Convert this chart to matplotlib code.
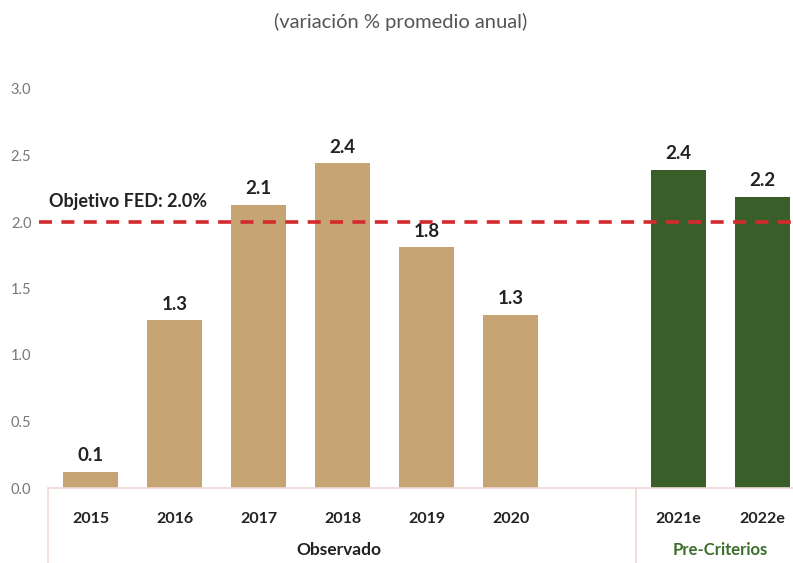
import matplotlib.pyplot as plt

# Datos -------------------------------------------------------------------
anios = ["2015", "2016", "2017", "2018", "2019", "2020", "2021e", "2022e"]
posiciones = [0, 1, 2, 3, 4, 5, 7, 8]
valores = [0.12, 1.26, 2.13, 2.44, 1.81, 1.30, 2.39, 2.19]
etiquetas = ["0.1", "1.3", "2.1", "2.4", "1.8", "1.3", "2.4", "2.2"]
objetivo_fed = 2.0

c_obs = "#C6A474"
c_pre = "#3A5E2A"
colores = [c_obs] * 6 + [c_pre] * 2

# Grafico -----------------------------------------------------------------
plt.rcParams["font.family"] = ["Lato", "DejaVu Sans"]
fig = plt.figure(figsize=(7.93, 5.63), dpi=100)
ax = fig.add_axes([48 / 793, 1 - 488 / 563, 1 - 48 / 793, 399 / 563])

ax.bar(posiciones, valores, width=0.66, color=colores, zorder=2)
for x, v, t in zip(posiciones, valores, etiquetas):
    ax.annotate(t, (x, v), xytext=(0, 5.5), textcoords="offset points",
                ha="center", va="bottom", fontsize=13.5, fontweight="bold",
                color="#222222")

ax.axhline(objetivo_fed, color="#D42A2E", lw=2.6, dashes=(3.6, 2.6),
           zorder=3, xmin=-0.012, clip_on=False)
ax.text(-0.49, 2.09, "Objetivo FED: 2.0%", fontsize=13, fontweight="bold",
        color="#222222", ha="left", va="bottom")

ax.set_xlim(-0.506, 8.363)
ax.set_ylim(0, 3.0)
ax.set_yticks([0, 0.5, 1.0, 1.5, 2.0, 2.5, 3.0])
ax.set_yticklabels(["0.0", "0.5", "1.0", "1.5", "2.0", "2.5", "3.0"])
ax.tick_params(axis="y", length=0, pad=12, labelsize=10.5, labelcolor="#777777")
ax.set_xticks(posiciones)
ax.set_xticklabels(anios)
ax.tick_params(axis="x", length=0, pad=17, labelsize=11.5, labelcolor="#222222")
for lbl in ax.get_xticklabels():
    lbl.set_fontweight("bold")

for s in ["top", "right", "left"]:
    ax.spines[s].set_visible(False)
ax.spines["bottom"].set_color("#EED9D4")
ax.spines["bottom"].set_linewidth(1.2)

# separadores de grupo
tr = ax.get_xaxis_transform()
for xs in [-0.506, 6.49]:
    ax.plot([xs, xs], [0, -0.19], transform=tr, color="#EED9D4", lw=1.2,
            clip_on=False)
ax.text(2.96, -0.155, "Observado", transform=tr, ha="center", va="center",
        fontsize=12.5, fontweight="bold", color="#222222")
ax.text(7.5, -0.155, "Pre-Criterios", transform=tr, ha="center", va="center",
        fontsize=12, fontweight="bold", color="#3A6E2A")

fig.text(0.505, 1 - 22 / 563, "(variación % promedio anual)", ha="center",
         va="center", fontsize=14.5, color="#555555")

fig.savefig("out.png", dpi=100)
